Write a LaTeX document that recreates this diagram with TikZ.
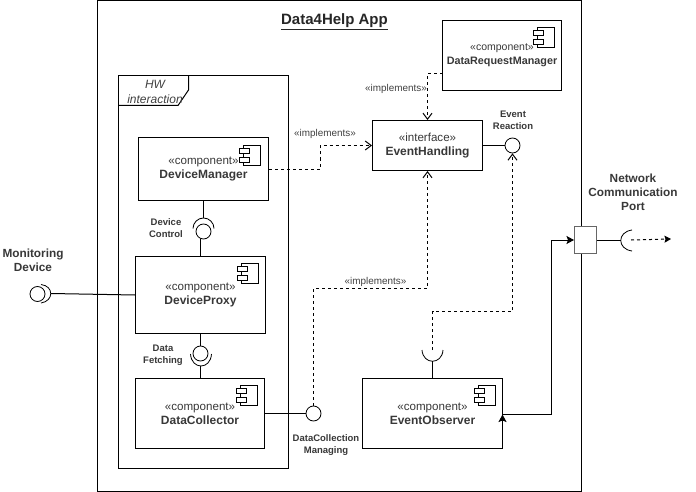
\documentclass[tikz,border=0pt]{standalone}
\usepackage{fontspec}
\setmainfont{Liberation Sans}
\usetikzlibrary{arrows.meta,calc}
\newcommand{\stereotype}[1]{{\fontsize{11.6}{14}\selectfont\mdseries #1}}
\tikzset{
  comp/.style={draw,line width=1pt,inner sep=0pt,align=center,text=black!78,font=\fontsize{12}{14}\selectfont\bfseries},
  ball/.style={draw,circle,line width=.8pt,inner sep=0pt,minimum size=15pt},
  lbl/.style={inner sep=0pt,align=center,font=\fontsize{9.5}{12}\selectfont\bfseries,text=black!78},
  biglbl/.style={inner sep=0pt,align=center,font=\fontsize{11.8}{14}\selectfont\bfseries,text=black!78},
  impl/.style={inner sep=0pt,font=\fontsize{9.9}{11}\selectfont,text=black!75},
  dep/.style={dash pattern=on 3pt off 3pt,line width=1pt,-{Straight Barb[length=6pt,width=9pt]}},
  wire/.style={line width=1pt},
  sock/.style={line width=.8pt},
  flow/.style={line width=1pt,-{Stealth[length=7.5pt,width=8pt,inset=1.5pt]}},
  compicon/.pic={
    \draw[line width=1pt] (-17,0) rectangle (0,20);
    \draw[line width=1pt,fill=white] (-21,3) rectangle (-11,8);
    \draw[line width=1pt,fill=white] (-21,12) rectangle (-11,17);
  }
}
\begin{document}
\begin{tikzpicture}[x=1pt,y=-1pt]
\useasboundingbox (0,0) rectangle (696,492);
% application frame
\draw[line width=1pt] (97.5,.5) rectangle (581.5,491.5);
\node[inner sep=0pt,font=\fontsize{15}{17}\selectfont\bfseries,text=black!85] (title) at (334.5,22) {\underline{Data4Help App}};
% hardware package
\draw[line width=1pt] (118.5,75.5) rectangle (288.5,468.5);
\draw[line width=1pt] (118.5,105.5) -- (178,105.5) -- (188.5,90) -- (188.5,75.5);
\node[inner sep=0pt,align=center,font=\fontsize{12}{15}\selectfont\itshape,text=black!75] (hw) at (155,91.5) {HW\\interaction};
% components
\node[comp,minimum width=130pt,minimum height=63pt] (dm) at (203.5,169) {\stereotype{«component»}\\DeviceManager};
\node[comp,minimum width=130pt,minimum height=77pt] (dp) at (200.5,295) {\stereotype{«component»}\\DeviceProxy};
\node[comp,minimum width=129pt,minimum height=70pt] (dc) at (200,413.5) {\stereotype{«component»}\\DataCollector};
\node[comp,minimum width=119pt,minimum height=70pt,font=\fontsize{10.8}{13.5}\selectfont\bfseries] (drm) at (502,55.5) {{\fontsize{10.5}{13.5}\selectfont\mdseries «component»}\\DataRequestManager};
\node[comp,minimum width=110pt,minimum height=50pt] (eh) at (427.5,145.5) {\stereotype{«interface»}\\EventHandling};
\node[comp,minimum width=140pt,minimum height=70pt] (eo) at (432.5,413.5) {\stereotype{«component»}\\EventObserver};
\node[draw=black!60,line width=1pt,minimum width=22pt,minimum height=27pt,inner sep=0pt,fill=white] (port) at (585.5,240) {};
\pic at (260.5,145.5) {compicon};
\pic at (258.5,263.5) {compicon};
\pic at (257.5,385.5) {compicon};
\pic at (554.5,27.5) {compicon};
\pic at (495.5,385.5) {compicon};
% interface balls
\node[ball] (ctrl) at (203.5,231.5) {};
\node[ball] (fetch) at (200.5,353.5) {};
\node[ball] (mon) at (37.5,294) {};
\node[ball] (react) at (512.5,145.5) {};
\node[ball] (coll) at (313.5,413.5) {};
% sockets
\draw[sock] (193,228.5) arc (180:360:10.5);
\coordinate (ctrltop) at (203.5,218);
\draw[sock] (190.5,354) .. controls (191.5,370) and (210.5,370) .. (211.5,354);
\coordinate (fetchbot) at (200.5,366);
\draw[sock] (41,284.5) .. controls (54,286) and (54,301) .. (41,303);
\coordinate (monsock) at (51,293.5);
\draw[sock] (632,230) .. controls (617,232) and (617,249) .. (632,251);
\coordinate (portsock) at (621,240.5);
\coordinate (portout) at (631,240);
\coordinate (portarrow) at (671,239);
\draw[sock] (422,350) .. controls (423,365) and (442,365) .. (443,350);
\coordinate (eosock) at (432.5,361);
\coordinate (eotop) at (432.5,350);
% solid connectors
\draw[wire] (dm.south) -- (ctrltop);
\draw[wire] (ctrl.south -| dp.north) -- (dp.north);
\draw[wire] (dp.south) -- (fetch.north);
\draw[wire] (fetchbot) -- (fetchbot |- dc.north);
\draw[wire] (monsock) -- (dp.west);
\draw[wire] (dc.east) -- (coll.west);
\draw[wire] (eh.east) -- (react.west);
\draw[wire] (eosock) -- (eo.north);
\draw[wire] (port.east |- portsock) -- (portsock);
% dashed dependencies
\coordinate (drmout) at (442.5,73.5);
\draw[dep] (drmout) -| (eh.north);
\coordinate (dmturn) at (320.5,169);
\draw[dep] (dm.east) -- (dmturn) |- (eh.west);
\coordinate (collturn) at (427.5,288.5);
\draw[dep] (coll.north) |- (collturn) -- (eh.south);
\coordinate (eoturn) at (512.5,311.5);
\draw[dep] (eotop) |- (eoturn) -- (react.south);
\draw[dash pattern=on 3pt off 3pt,line width=1pt,-{Stealth[length=6.5pt,width=7pt,inset=1pt]}] (portout) -- (portarrow);
% observer to port
\coordinate (eoout) at (502.5,414.5);
\coordinate (eoarrow) at (502.5,424);
\coordinate (eoturn2) at (551.5,240);
\draw[flow] (eoout) -| (eoturn2) -- (port.west);
\draw[flow] (eoarrow) -- (eoout);
% labels
\node[impl] (imp1) at (325,133.5) {«implements»};
\node[impl] (imp2) at (396,89) {«implements»};
\node[impl] (imp3) at (375.5,282) {«implements»};
\node[lbl] (ctrllbl) at (166,228) {Device\\Control};
\node[lbl] (fetchlbl) at (163,355.5) {Data\\Fetching};
\node[lbl] (reactlbl) at (513,120) {Event\\Reaction};
\node[lbl] (colllbl) at (326,445.5) {DataCollection\\Managing};
\node[biglbl] (monlbl) at (33,260) {Monitoring\\Device};
\node[biglbl] (portlbl) at (633,192.5) {Network\\Communication\\Port};
\end{tikzpicture}
\end{document}
